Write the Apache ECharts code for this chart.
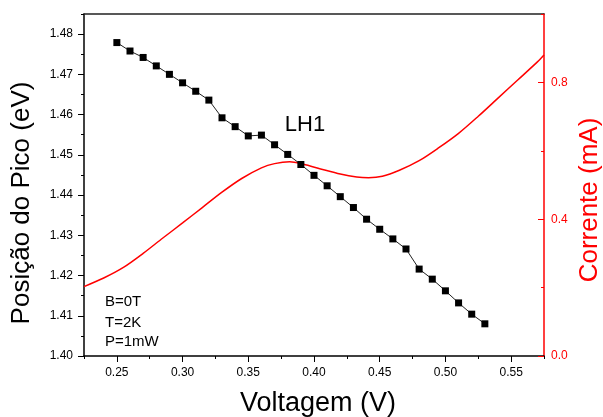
<!DOCTYPE html>
<html>
<head>
<meta charset="utf-8">
<script src="https://cdn.jsdelivr.net/npm/echarts@6/dist/echarts.min.js"></script>
<style>
html,body{margin:0;padding:0;background:#fff;}
#chart{width:603px;height:417px;}
</style>
</head>
<body>
<div id="chart"></div>
<script>
// ---- data ----
const voltages = [0.25, 0.26, 0.27, 0.28, 0.29, 0.30, 0.31, 0.32, 0.33, 0.34, 0.35, 0.36, 0.37, 0.38, 0.39, 0.40, 0.41, 0.42, 0.43, 0.44, 0.45, 0.46, 0.47, 0.48, 0.49, 0.50, 0.51, 0.52, 0.53];
const peakEnergy = [1.4779, 1.4758, 1.4742, 1.4721, 1.4700, 1.4679, 1.4658, 1.4636, 1.4592, 1.4570, 1.4547, 1.4549, 1.4525, 1.4501, 1.4476, 1.4449, 1.4423, 1.4396, 1.4369, 1.4340, 1.4315, 1.4291, 1.4266, 1.4216, 1.4191, 1.4162, 1.4132, 1.4104, 1.4080];
const curveV = [0.225, 0.240, 0.255, 0.270, 0.285, 0.300, 0.315, 0.330, 0.345, 0.360, 0.370, 0.3815, 0.392, 0.405, 0.420, 0.4325, 0.4415, 0.452, 0.465, 0.480, 0.495, 0.510, 0.525, 0.540, 0.555, 0.570, 0.575];
const curveI = [0.203, 0.228, 0.259, 0.300, 0.345, 0.389, 0.434, 0.479, 0.519, 0.550, 0.5625, 0.568, 0.5605, 0.547, 0.532, 0.5235, 0.5215, 0.5255, 0.543, 0.571, 0.609, 0.651, 0.701, 0.754, 0.807, 0.860, 0.880];
const xMajorTicks = [0.25, 0.30, 0.35, 0.40, 0.45, 0.50, 0.55];
const xMinorTicks = [0.225, 0.275, 0.325, 0.375, 0.425, 0.475, 0.525, 0.575];
const yLeftMajorTicks = [1.40, 1.41, 1.42, 1.43, 1.44, 1.45, 1.46, 1.47, 1.48];
const yLeftMinorTicks = [1.405, 1.415, 1.425, 1.435, 1.445, 1.455, 1.465, 1.475, 1.485];
const yRightMajorTicks = [0.0, 0.4, 0.8];
const yRightMinorTicks = [0.2, 0.6, 1.0];
const xTitle = 'Voltagem (V)';
const yLeftTitle = 'Posição do Pico (eV)';
const yRightTitle = 'Corrente (mA)';
const sampleLabel = 'LH1';
const conditions = ['B=0T', 'T=2K', 'P=1mW'];

const FONT = 'Liberation Sans, Arial, sans-serif';
const RED = '#ff0000';

const chart = echarts.init(document.getElementById('chart'), null, {renderer: 'canvas'});

function pair(a, b) { return a.map((v, i) => [v, b[i]]); }

const option = {
  animation: false,
  backgroundColor: '#fff',
  grid: {left: 84, right: 59, top: 14, bottom: 61, containLabel: false},
  xAxis: [
    {
      type: 'value', min: 0.225, max: 0.575, position: 'bottom',
      axisLine: {show: true, lineStyle: {color: '#000', width: 1.5}},
      axisTick: {show: true, length: 6, customValues: xMajorTicks, lineStyle: {color: '#000', width: 1}},
      axisLabel: {show: true, customValues: xMajorTicks, formatter: v => v.toFixed(2), margin: 11, fontSize: 12, color: '#000', fontFamily: FONT},
      splitLine: {show: false}
    },
    {
      type: 'value', min: 0.225, max: 0.575, position: 'bottom',
      axisLine: {show: false},
      axisTick: {show: true, length: 3, customValues: xMinorTicks, lineStyle: {color: '#000', width: 1}},
      axisLabel: {show: false},
      splitLine: {show: false}
    },
    {
      type: 'value', min: 0.225, max: 0.575, position: 'top',
      axisLine: {show: true, lineStyle: {color: '#222', width: 1.5}},
      axisTick: {show: false}, axisLabel: {show: false}, splitLine: {show: false}
    }
  ],
  yAxis: [
    {
      type: 'value', min: 1.40, max: 1.485, position: 'left',
      axisLine: {show: true, lineStyle: {color: '#000', width: 1.5}},
      axisTick: {show: true, length: 6, customValues: yLeftMajorTicks, lineStyle: {color: '#000', width: 1}},
      axisLabel: {show: true, customValues: yLeftMajorTicks, formatter: v => v.toFixed(2), margin: 11, fontSize: 12, color: '#000', fontFamily: FONT},
      splitLine: {show: false}
    },
    {
      type: 'value', min: 1.40, max: 1.485, position: 'left',
      axisLine: {show: false},
      axisTick: {show: true, length: 3, customValues: yLeftMinorTicks, lineStyle: {color: '#000', width: 1}},
      axisLabel: {show: false}, splitLine: {show: false}
    },
    {
      type: 'value', min: 0, max: 1.0, position: 'right',
      axisLine: {show: true, lineStyle: {color: RED, width: 1.5}},
      axisTick: {show: true, inside: true, length: 6, customValues: yRightMajorTicks, lineStyle: {color: RED, width: 1}},
      axisLabel: {show: true, customValues: yRightMajorTicks, formatter: v => v.toFixed(1), margin: 7, fontSize: 12, color: RED, fontFamily: FONT},
      splitLine: {show: false}
    },
    {
      type: 'value', min: 0, max: 1.0, position: 'right',
      axisLine: {show: false},
      axisTick: {show: true, inside: true, length: 3, customValues: yRightMinorTicks, lineStyle: {color: RED, width: 1}},
      axisLabel: {show: false}, splitLine: {show: false}
    }
  ],
  series: [
    {
      type: 'line', name: 'Corrente', xAxisIndex: 0, yAxisIndex: 2,
      data: pair(curveV, curveI), smooth: 0.3, showSymbol: false, symbol: 'none',
      lineStyle: {color: RED, width: 1.5}, clip: true, z: 2
    },
    {
      type: 'line', name: 'LH1', xAxisIndex: 0, yAxisIndex: 0,
      data: pair(voltages, peakEnergy), symbol: 'rect', symbolSize: 7,
      itemStyle: {color: '#000', borderWidth: 0},
      lineStyle: {color: '#222', width: 1}, z: 3
    }
  ],
  graphic: [
    {type: 'text', x: 22, y: 203, rotation: Math.PI / 2,
     style: {text: yLeftTitle, font: '26px ' + FONT, fill: '#000', align: 'center', verticalAlign: 'middle'}},
    {type: 'text', x: 590, y: 200, rotation: Math.PI / 2,
     style: {text: yRightTitle, font: '26px ' + FONT, fill: RED, align: 'center', verticalAlign: 'middle'}},
    {type: 'text', x: 318, y: 404,
     style: {text: xTitle, font: '27px ' + FONT, fill: '#000', align: 'center', verticalAlign: 'middle'}},
    {type: 'text', x: 305, y: 125,
     style: {text: sampleLabel, font: '22px ' + FONT, fill: '#000', align: 'center', verticalAlign: 'middle'}},
    {type: 'text', x: 105, y: 302,
     style: {text: conditions[0], font: '15px ' + FONT, fill: '#000', align: 'left', verticalAlign: 'middle'}},
    {type: 'text', x: 105, y: 323,
     style: {text: conditions[1], font: '15px ' + FONT, fill: '#000', align: 'left', verticalAlign: 'middle'}},
    {type: 'text', x: 105, y: 341.5,
     style: {text: conditions[2], font: '15px ' + FONT, fill: '#000', align: 'left', verticalAlign: 'middle'}}
  ]
};
chart.setOption(option);
</script>
</body>
</html>
